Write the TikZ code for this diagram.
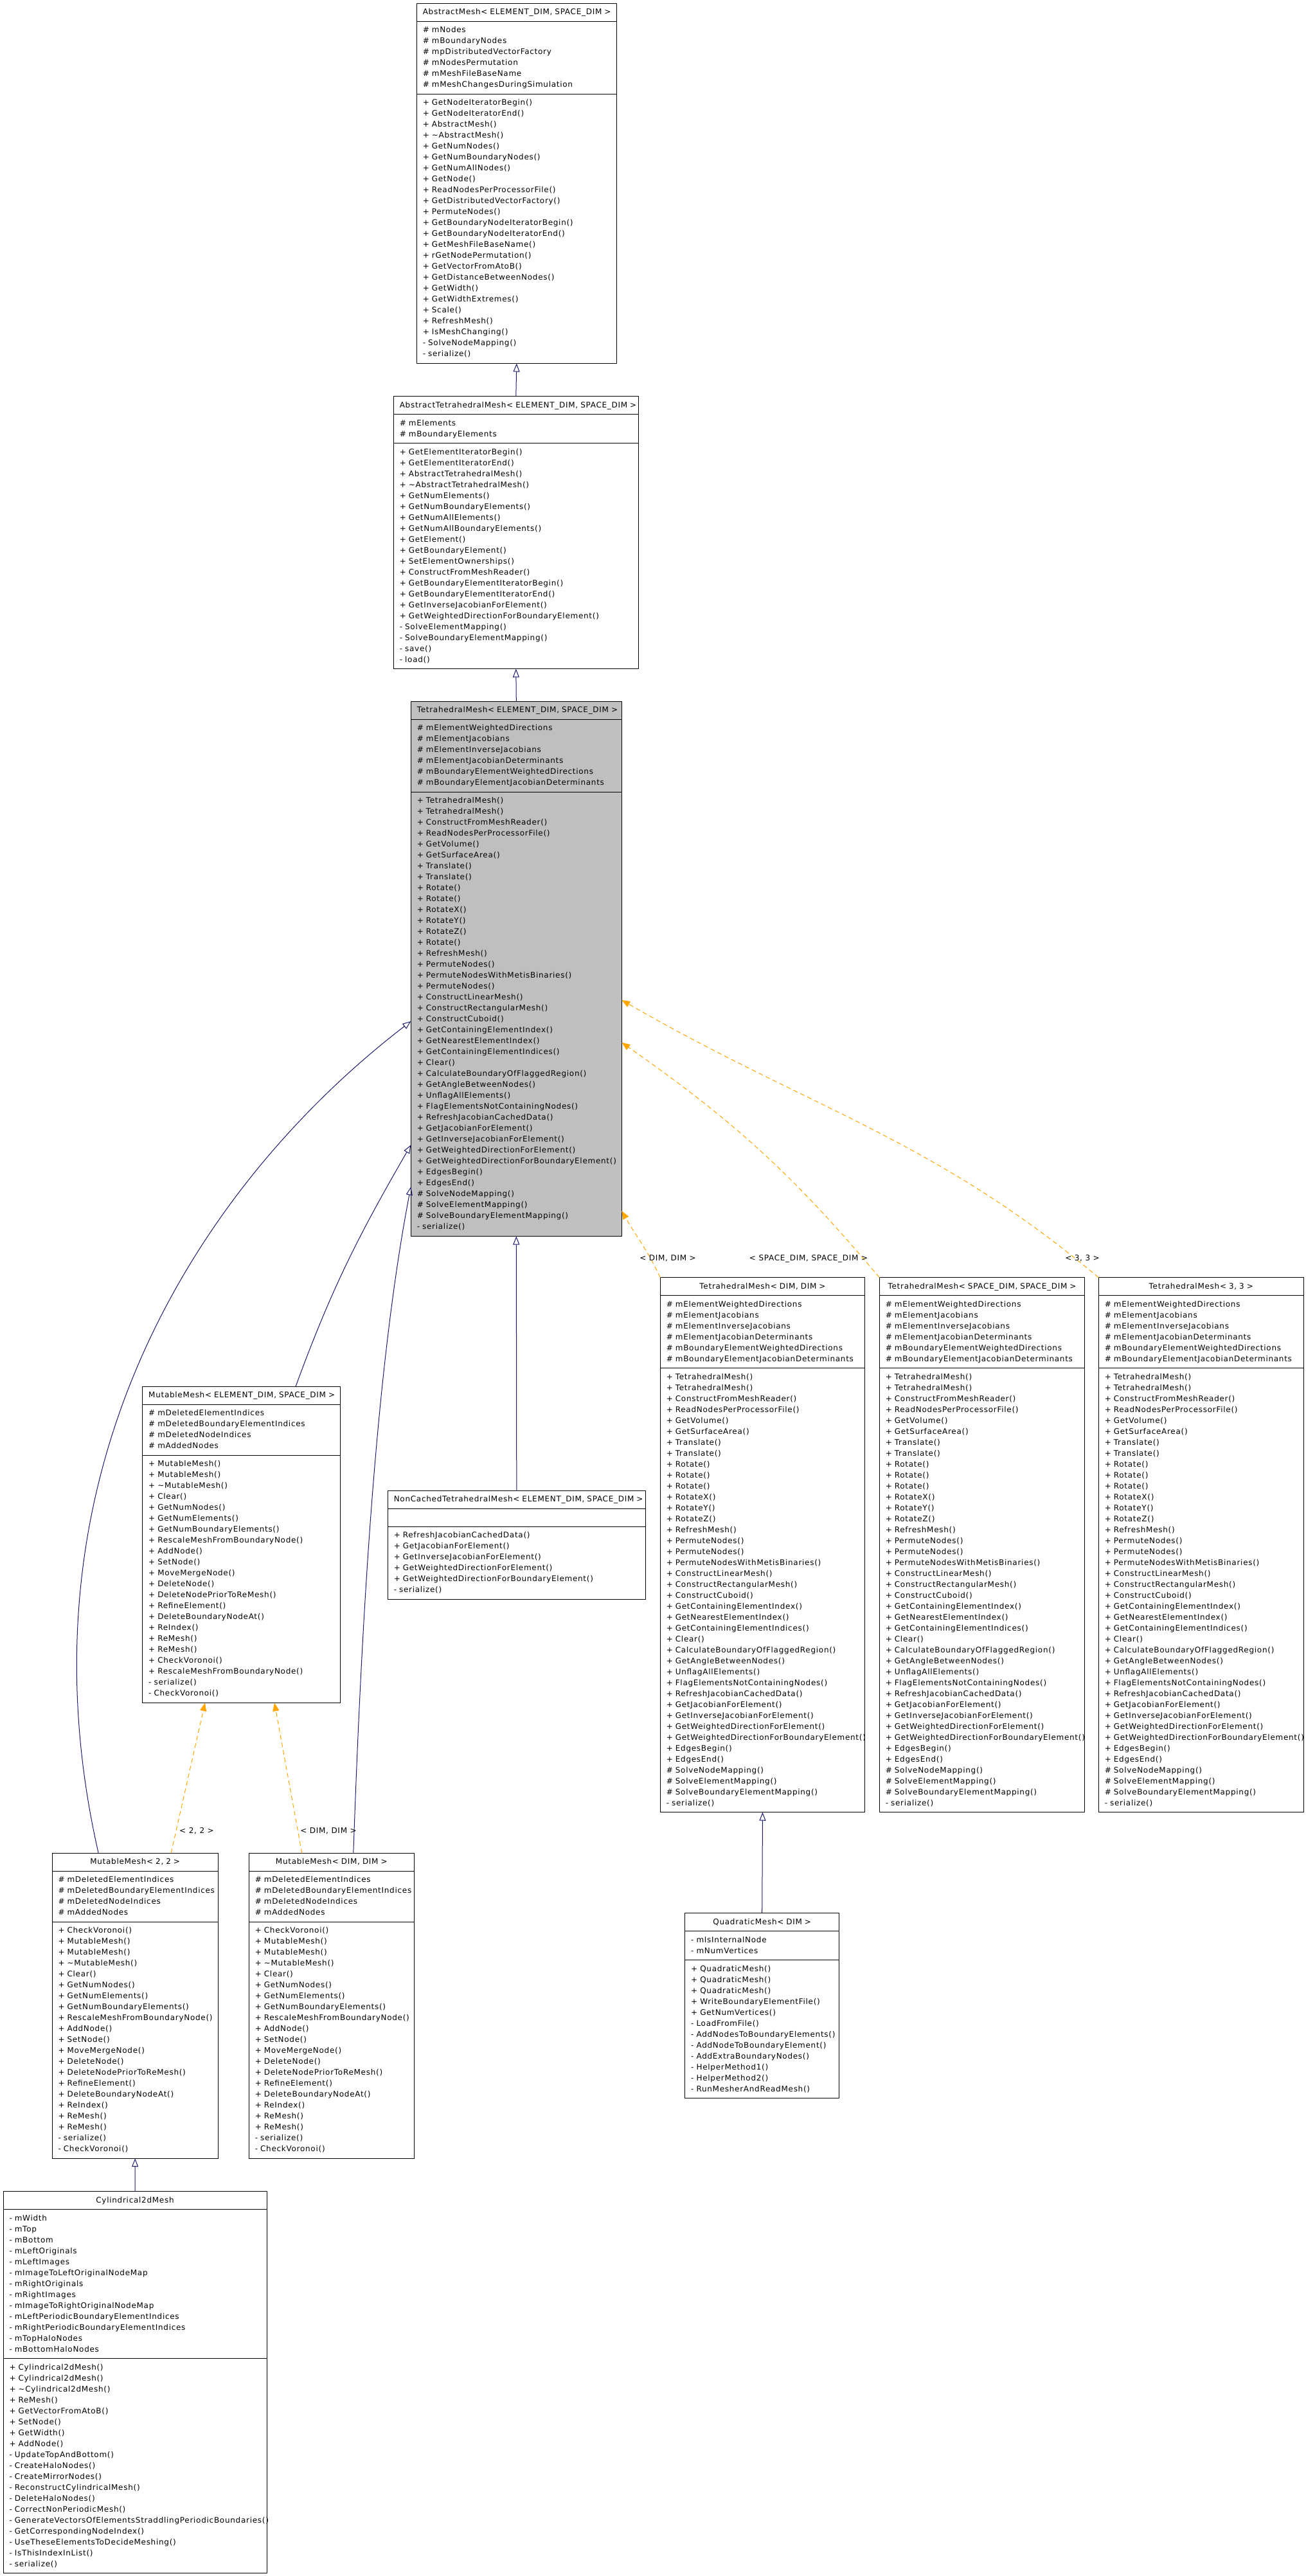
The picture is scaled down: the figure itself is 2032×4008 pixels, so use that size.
\documentclass[tikz,border=0pt]{standalone}
\usepackage{fontspec}
\setmainfont{DejaVu Sans}[LetterSpace=6.0]
\usetikzlibrary{arrows.meta,positioning}
\definecolor{EdgeBlue}{RGB}{25,25,112}
\definecolor{TmplOrange}{RGB}{255,165,0}
\definecolor{BaseGray}{RGB}{191,191,191}
\newcommand{\umlfont}{\fontsize{12}{17}\selectfont}
\hyphenpenalty=10000
\exhyphenpenalty=10000

% member lists shared by the instantiated classes
\newcommand{\tetattrs}{\#~mElementWeightedDirections\\
\#~mElementJacobians\\
\#~mElementInverseJacobians\\
\#~mElementJacobianDeterminants\\
\#~mBoundaryElementWeightedDirections\\
\#~mBoundaryElementJacobianDeterminants}
\newcommand{\tetmethods}{+~TetrahedralMesh()\\
+~TetrahedralMesh()\\
+~ConstructFromMeshReader()\\
+~ReadNodesPerProcessorFile()\\
+~GetVolume()\\
+~GetSurfaceArea()\\
+~Translate()\\
+~Translate()\\
+~Rotate()\\
+~Rotate()\\
+~Rotate()\\
+~RotateX()\\
+~RotateY()\\
+~RotateZ()\\
+~RefreshMesh()\\
+~PermuteNodes()\\
+~PermuteNodes()\\
+~PermuteNodesWithMetisBinaries()\\
+~ConstructLinearMesh()\\
+~ConstructRectangularMesh()\\
+~ConstructCuboid()\\
+~GetContainingElementIndex()\\
+~GetNearestElementIndex()\\
+~GetContainingElementIndices()\\
+~Clear()\\
+~CalculateBoundaryOfFlaggedRegion()\\
+~GetAngleBetweenNodes()\\
+~UnflagAllElements()\\
+~FlagElementsNotContainingNodes()\\
+~RefreshJacobianCachedData()\\
+~GetJacobianForElement()\\
+~GetInverseJacobianForElement()\\
+~GetWeightedDirectionForElement()\\
+~GetWeightedDirectionForBoundaryElement()\\
+~EdgesBegin()\\
+~EdgesEnd()\\
\#~SolveNodeMapping()\\
\#~SolveElementMapping()\\
\#~SolveBoundaryElementMapping()\\
-~serialize()}
\newcommand{\mutattrs}{\#~mDeletedElementIndices\\
\#~mDeletedBoundaryElementIndices\\
\#~mDeletedNodeIndices\\
\#~mAddedNodes}
\newcommand{\mutmethods}{+~CheckVoronoi()\\
+~MutableMesh()\\
+~MutableMesh()\\
+~\textasciitilde MutableMesh()\\
+~Clear()\\
+~GetNumNodes()\\
+~GetNumElements()\\
+~GetNumBoundaryElements()\\
+~RescaleMeshFromBoundaryNode()\\
+~AddNode()\\
+~SetNode()\\
+~MoveMergeNode()\\
+~DeleteNode()\\
+~DeleteNodePriorToReMesh()\\
+~RefineElement()\\
+~DeleteBoundaryNodeAt()\\
+~ReIndex()\\
+~ReMesh()\\
+~ReMesh()\\
-~serialize()\\
-~CheckVoronoi()}

\tikzset{
  cls/.style={draw, line width=1pt, fill=white, outer sep=0pt, inner xsep=9.5pt, inner ysep=5.5pt,
    text width=#1, align=left, font=\umlfont, execute at begin node=\strut, execute at end node=\strut},
  clshead/.style={cls=#1, align=center, anchor=north west},
  inh/.style={EdgeBlue, line width=1pt, -{Triangle[open, length=13pt, width=10pt]}},
  tmpl/.style={TmplOrange, line width=1pt, dash pattern=on 7pt off 5pt, -{Triangle[length=13pt, width=10pt]}},
  lbl/.style={font=\umlfont, inner sep=0pt},
}

\begin{document}
\begin{tikzpicture}[x=1pt, y=1pt]
  \useasboundingbox (0,0) rectangle (2032,-4008);

  % AbstractMesh
  \node[clshead=292pt] (am) at (648.3,-5.5) {\mbox{AbstractMesh< ELEMENT\_DIM, SPACE\_DIM >}};
  \node[cls=292pt, below=0pt of am] (am-a) {\#~mNodes\\ \#~mBoundaryNodes\\ \#~mpDistributedVectorFactory\\
    \#~mNodesPermutation\\ \#~mMeshFileBaseName\\ \#~mMeshChangesDuringSimulation};
  \node[cls=292pt, below=0pt of am-a] (am-m) {+~GetNodeIteratorBegin()\\ +~GetNodeIteratorEnd()\\
    +~AbstractMesh()\\ +~\textasciitilde AbstractMesh()\\ +~GetNumNodes()\\ +~GetNumBoundaryNodes()\\
    +~GetNumAllNodes()\\ +~GetNode()\\ +~ReadNodesPerProcessorFile()\\ +~GetDistributedVectorFactory()\\
    +~PermuteNodes()\\ +~GetBoundaryNodeIteratorBegin()\\ +~GetBoundaryNodeIteratorEnd()\\
    +~GetMeshFileBaseName()\\ +~rGetNodePermutation()\\ +~GetVectorFromAtoB()\\
    +~GetDistanceBetweenNodes()\\ +~GetWidth()\\ +~GetWidthExtremes()\\ +~Scale()\\ +~RefreshMesh()\\
    +~IsMeshChanging()\\ -~SolveNodeMapping()\\ -~serialize()};

  % AbstractTetrahedralMesh
  \node[clshead=362pt] (atm) at (612.3,-616.7) {\mbox{AbstractTetrahedralMesh< ELEMENT\_DIM, SPACE\_DIM >}};
  \node[cls=362pt, below=0pt of atm] (atm-a) {\#~mElements\\ \#~mBoundaryElements};
  \node[cls=362pt, below=0pt of atm-a] (atm-m) {+~GetElementIteratorBegin()\\ +~GetElementIteratorEnd()\\
    +~AbstractTetrahedralMesh()\\ +~\textasciitilde AbstractTetrahedralMesh()\\ +~GetNumElements()\\
    +~GetNumBoundaryElements()\\ +~GetNumAllElements()\\ +~GetNumAllBoundaryElements()\\ +~GetElement()\\
    +~GetBoundaryElement()\\ +~SetElementOwnerships()\\ +~ConstructFromMeshReader()\\
    +~GetBoundaryElementIteratorBegin()\\ +~GetBoundaryElementIteratorEnd()\\
    +~GetInverseJacobianForElement()\\ +~GetWeightedDirectionForBoundaryElement()\\
    -~SolveElementMapping()\\ -~SolveBoundaryElementMapping()\\ -~save()\\ -~load()};

  % TetrahedralMesh (the class of this page)
  \node[clshead=309pt, fill=BaseGray] (tm) at (639.3,-1091.5) {\mbox{TetrahedralMesh< ELEMENT\_DIM, SPACE\_DIM >}};
  \node[cls=309pt, fill=BaseGray, below=0pt of tm] (tm-a) {\tetattrs};
  \node[cls=309pt, fill=BaseGray, below=0pt of tm-a] (tm-m) {+~TetrahedralMesh()\\ +~TetrahedralMesh()\\
    +~ConstructFromMeshReader()\\ +~ReadNodesPerProcessorFile()\\ +~GetVolume()\\ +~GetSurfaceArea()\\
    +~Translate()\\ +~Translate()\\ +~Rotate()\\ +~Rotate()\\ +~RotateX()\\ +~RotateY()\\ +~RotateZ()\\
    +~Rotate()\\ +~RefreshMesh()\\ +~PermuteNodes()\\ +~PermuteNodesWithMetisBinaries()\\
    +~PermuteNodes()\\ +~ConstructLinearMesh()\\ +~ConstructRectangularMesh()\\ +~ConstructCuboid()\\
    +~GetContainingElementIndex()\\ +~GetNearestElementIndex()\\ +~GetContainingElementIndices()\\
    +~Clear()\\ +~CalculateBoundaryOfFlaggedRegion()\\ +~GetAngleBetweenNodes()\\
    +~UnflagAllElements()\\ +~FlagElementsNotContainingNodes()\\ +~RefreshJacobianCachedData()\\
    +~GetJacobianForElement()\\ +~GetInverseJacobianForElement()\\ +~GetWeightedDirectionForElement()\\
    +~GetWeightedDirectionForBoundaryElement()\\ +~EdgesBegin()\\ +~EdgesEnd()\\
    \#~SolveNodeMapping()\\ \#~SolveElementMapping()\\ \#~SolveBoundaryElementMapping()\\ -~serialize()};

  % MutableMesh
  \node[clshead=288.6pt] (mm) at (221.7,-2157.3) {\mbox{MutableMesh< ELEMENT\_DIM, SPACE\_DIM >}};
  \node[cls=288.6pt, below=0pt of mm] (mm-a) {\mutattrs};
  \node[cls=288.6pt, below=0pt of mm-a] (mm-m) {+~MutableMesh()\\ +~MutableMesh()\\
    +~\textasciitilde MutableMesh()\\ +~Clear()\\ +~GetNumNodes()\\ +~GetNumElements()\\
    +~GetNumBoundaryElements()\\ +~RescaleMeshFromBoundaryNode()\\ +~AddNode()\\ +~SetNode()\\
    +~MoveMergeNode()\\ +~DeleteNode()\\ +~DeleteNodePriorToReMesh()\\ +~RefineElement()\\
    +~DeleteBoundaryNodeAt()\\ +~ReIndex()\\ +~ReMesh()\\ +~ReMesh()\\ +~CheckVoronoi()\\
    +~RescaleMeshFromBoundaryNode()\\ -~serialize()\\ -~CheckVoronoi()};

  % NonCachedTetrahedralMesh
  \node[clshead=382pt] (nc) at (603.3,-2319.3) {\mbox{NonCachedTetrahedralMesh< ELEMENT\_DIM, SPACE\_DIM >}};
  \node[cls=382pt, below=0pt of nc] (nc-a) {};
  \node[cls=382pt, below=0pt of nc-a] (nc-m) {+~RefreshJacobianCachedData()\\ +~GetJacobianForElement()\\
    +~GetInverseJacobianForElement()\\ +~GetWeightedDirectionForElement()\\
    +~GetWeightedDirectionForBoundaryElement()\\ -~serialize()};

  % TetrahedralMesh instantiations
  \node[clshead=299.4pt] (tdd) at (1027.3,-1987.7) {TetrahedralMesh< DIM, DIM >};
  \node[cls=299.4pt, below=0pt of tdd] (tdd-a) {\tetattrs};
  \node[cls=299.4pt, below=0pt of tdd-a] (tdd-m) {\tetmethods};

  \node[clshead=300.4pt] (tsd) at (1368.3,-1987.7) {TetrahedralMesh< SPACE\_DIM, SPACE\_DIM >};
  \node[cls=300.4pt, below=0pt of tsd] (tsd-a) {\tetattrs};
  \node[cls=300.4pt, below=0pt of tsd-a] (tsd-m) {\tetmethods};

  \node[clshead=300pt] (t33) at (1709.3,-1987.7) {TetrahedralMesh< 3, 3 >};
  \node[cls=300pt, below=0pt of t33] (t33-a) {\tetattrs};
  \node[cls=300pt, below=0pt of t33-a] (t33-m) {\tetmethods};

  % MutableMesh instantiations
  \node[clshead=239.3pt] (mm22) at (81,-2883.2) {MutableMesh< 2, 2 >};
  \node[cls=239.3pt, below=0pt of mm22] (mm22-a) {\mutattrs};
  \node[cls=239.3pt, below=0pt of mm22-a] (mm22-m) {\mutmethods};

  \node[clshead=238pt] (mmd) at (387.3,-2883.5) {MutableMesh< DIM, DIM >};
  \node[cls=238pt, below=0pt of mmd] (mmd-a) {\mutattrs};
  \node[cls=238pt, below=0pt of mmd-a] (mmd-m) {\mutmethods};

  % QuadraticMesh
  \node[clshead=221pt] (qm) at (1065.7,-2976.7) {QuadraticMesh< DIM >};
  \node[cls=221pt, below=0pt of qm] (qm-a) {-~mIsInternalNode\\ -~mNumVertices};
  \node[cls=221pt, below=0pt of qm-a] (qm-m) {+~QuadraticMesh()\\ +~QuadraticMesh()\\ +~QuadraticMesh()\\
    +~WriteBoundaryElementFile()\\ +~GetNumVertices()\\ -~LoadFromFile()\\
    -~AddNodesToBoundaryElements()\\ -~AddNodeToBoundaryElement()\\ -~AddExtraBoundaryNodes()\\
    -~HelperMethod1()\\ -~HelperMethod2()\\ -~RunMesherAndReadMesh()};

  % Cylindrical2dMesh
  \node[clshead=391pt] (cyl) at (5,-3409.7) {Cylindrical2dMesh};
  \node[cls=391pt, below=0pt of cyl] (cyl-a) {-~mWidth\\ -~mTop\\ -~mBottom\\ -~mLeftOriginals\\
    -~mLeftImages\\ -~mImageToLeftOriginalNodeMap\\ -~mRightOriginals\\ -~mRightImages\\
    -~mImageToRightOriginalNodeMap\\ -~mLeftPeriodicBoundaryElementIndices\\
    -~mRightPeriodicBoundaryElementIndices\\ -~mTopHaloNodes\\ -~mBottomHaloNodes};
  \node[cls=391pt, below=0pt of cyl-a] (cyl-m) {+~Cylindrical2dMesh()\\ +~Cylindrical2dMesh()\\
    +~\textasciitilde Cylindrical2dMesh()\\ +~ReMesh()\\ +~GetVectorFromAtoB()\\ +~SetNode()\\
    +~GetWidth()\\ +~AddNode()\\ -~UpdateTopAndBottom()\\ -~CreateHaloNodes()\\ -~CreateMirrorNodes()\\
    -~ReconstructCylindricalMesh()\\ -~DeleteHaloNodes()\\ -~CorrectNonPeriodicMesh()\\
    -~GenerateVectorsOfElementsStraddlingPeriodicBoundaries()\\ -~GetCorrespondingNodeIndex()\\
    -~UseTheseElementsToDecideMeshing()\\ -~IsThisIndexInList()\\ -~serialize()};

  % inheritance
  \draw[inh] (atm.north) -- (am-m.south);
  \draw[inh] (tm.north) -- (atm-m.south);
  \draw[inh] (nc.north) -- (tm-m.south);
  \draw[inh] ([xshift=84.5pt]mm.north) .. controls +(56,153) and +(-81.5,-141) .. ([yshift=-203.5pt]tm-m.west);
  \draw[inh] ([xshift=-57pt]mm22.north) .. controls +(-133,583) and +(-339,-261) .. ([yshift=-11pt]tm-m.west);
  \draw[inh] ([xshift=34pt]mmd.north) .. controls +(15,433) and +(-49,-253.5) .. ([yshift=-268.5pt]tm-m.west);
  \draw[inh] (qm.north) -- (tdd-m.south);
  \draw[inh] (cyl.north) -- (mm22-m.south);

  % template instantiation
  \draw[tmpl] (tdd.north west) .. controls +(-20,43) and +(23.5,-41) .. ([yshift=-306pt]tm-m.east);
  \draw[tmpl] (tsd.north west) .. controls +(-137,163) and +(174,-122) .. ([yshift=-44pt]tm-m.east);
  \draw[tmpl] (t33.north west) .. controls +(-257,216) and +(291,-168) .. ([yshift=22pt]tm-m.east);
  \draw[tmpl] ([xshift=56pt]mm22.north) -- ([xshift=-56.5pt]mm-m.south);
  \draw[tmpl] ([xshift=-46pt]mmd.north) -- ([xshift=51.5pt]mm-m.south);

  \node[lbl] (l-tdd) at (1039,-1958) {< DIM, DIM >};
  \node[lbl] (l-tsd) at (1258,-1958) {< SPACE\_DIM, SPACE\_DIM >};
  \node[lbl] (l-t33) at (1684,-1958) {< 3, 3 >};
  \node[lbl] (l-mm22) at (306,-2849) {< 2, 2 >};
  \node[lbl] (l-mmd) at (511,-2849) {< DIM, DIM >};
\end{tikzpicture}
\end{document}
